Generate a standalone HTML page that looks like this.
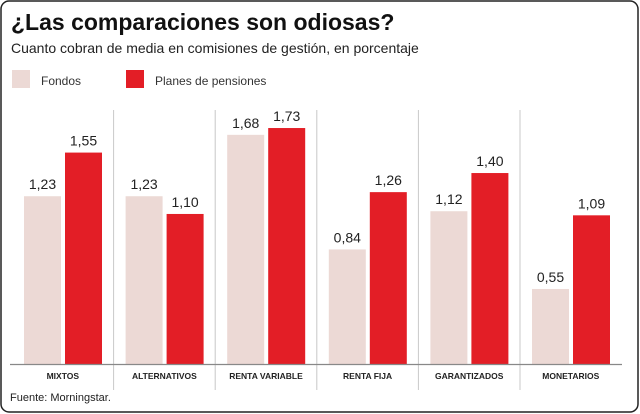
<!DOCTYPE html>
<html><head><meta charset="utf-8"><style>
body{margin:0;background:#fff;font-family:"Liberation Sans",sans-serif;}
#wrap{position:relative;width:640px;height:414px;overflow:hidden;}
</style></head><body>
<div id="wrap">
<svg width="640" height="414">
<rect x="1" y="1" width="637" height="411" rx="8" fill="#fff" stroke="#222" stroke-width="1.5"/>
<text x="11" y="30" font-size="23" font-weight="bold" fill="#111">¿Las comparaciones son odiosas?</text>
<text x="11" y="53" font-size="14" fill="#222">Cuanto cobran de media en comisiones de gestión, en porcentaje</text>
<g><rect x="12" y="70" width="18" height="18" fill="#ecd9d5"/><text x="41" y="85" font-size="12" fill="#333">Fondos</text></g>
<g><rect x="126" y="70" width="18" height="18" fill="#e31e26"/><text x="155" y="85" font-size="12" fill="#333">Planes de pensiones</text></g>
<g id="plot"></g>
<text x="10" y="401" font-size="11" fill="#222">Fuente: Morningstar.</text>
</svg>
</div>
<script>
const categories=["MIXTOS","ALTERNATIVOS","RENTA VARIABLE","RENTA FIJA","GARANTIZADOS","MONETARIOS"];
const fondos=[1.23,1.23,1.68,0.84,1.12,0.55];
const planes=[1.55,1.10,1.73,1.26,1.40,1.09];
const NS="http://www.w3.org/2000/svg";
const g=document.getElementById('plot');
const base=364, scale=136.4, gx0=12, gw=101.6;
const y=v=>base-v*scale;
const fmt=v=>v.toFixed(2).replace('.',',');
function mk(tag,attrs){const e=document.createElementNS(NS,tag);for(const k in attrs)e.setAttribute(k,attrs[k]);g.appendChild(e);return e;}
for(let i=1;i<categories.length;i++){
 const s=mk('line',{x1:gx0+gw*i,x2:gx0+gw*i,y1:110,y2:390,stroke:'#c8c8c8','stroke-width':1});
 
 
}
categories.forEach((c,i)=>{
 const x0=gx0+gw*i+12;
 [[fondos[i],'#ecd9d5',0,'bar-fondos'],[planes[i],'#e31e26',41,'bar-planes']].forEach(([v,col,dx,nm])=>{
  const r=mk('rect',{x:x0+dx,y:y(v),width:37,height:base-y(v),fill:col});
  
  
  const t=mk('text',{x:x0+dx+18.5,y:y(v)-7,'text-anchor':'middle','font-size':14,fill:'#222'});
  t.textContent=fmt(v);
  
  
 });
 const l=mk('text',{x:gx0+gw*i+gw/2,y:379,'text-anchor':'middle','font-size':8.5,'font-weight':'bold',fill:'#222'});
 l.textContent=c;
 
 
});
const ax=mk('line',{x1:10,x2:622,y1:base+0.5,y2:base+0.5,stroke:'#888','stroke-width':1.2});


</script>
</body></html>
